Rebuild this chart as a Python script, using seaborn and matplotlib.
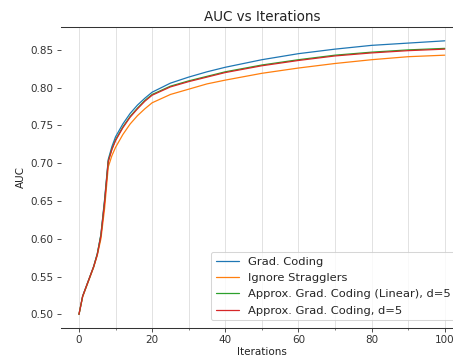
import numpy as np
import pandas as pd
import matplotlib
matplotlib.use("Agg")
import matplotlib.pyplot as plt
from matplotlib.ticker import MultipleLocator
import seaborn as sns

iterations = [0, 1, 2, 3, 4, 5, 6, 7, 8, 9, 10, 12, 14, 16, 18, 20, 25, 30, 35, 40, 50, 60, 70, 80, 90, 100]

grad_coding = [0.500, 0.524, 0.537, 0.550, 0.563, 0.580, 0.606, 0.652, 0.705, 0.722, 0.735, 0.752, 0.766, 0.777,
               0.786, 0.794, 0.806, 0.814, 0.821, 0.827, 0.837, 0.845, 0.851, 0.856, 0.859, 0.862]
ignore_stragglers = [0.500, 0.523, 0.536, 0.549, 0.562, 0.578, 0.600, 0.640, 0.695, 0.710, 0.721, 0.738, 0.752, 0.763,
                     0.772, 0.780, 0.791, 0.798, 0.805, 0.810, 0.819, 0.826, 0.832, 0.837, 0.841, 0.843]
approx_linear = [0.500, 0.524, 0.537, 0.550, 0.563, 0.580, 0.605, 0.650, 0.703, 0.719, 0.731, 0.748, 0.762, 0.773,
                 0.783, 0.791, 0.802, 0.809, 0.815, 0.821, 0.830, 0.837, 0.843, 0.847, 0.850, 0.852]
approx_d5 = [0.500, 0.524, 0.537, 0.550, 0.563, 0.579, 0.604, 0.648, 0.702, 0.718, 0.730, 0.747, 0.761, 0.772,
             0.782, 0.790, 0.801, 0.808, 0.814, 0.820, 0.829, 0.836, 0.842, 0.846, 0.849, 0.851]

labels = ["Grad. Coding", "Ignore Stragglers", "Approx. Grad. Coding (Linear), d=5", "Approx. Grad. Coding, d=5"]
series = [grad_coding, ignore_stragglers, approx_linear, approx_d5]

frames = []
for lab, vals in zip(labels, series):
    frames.append(pd.DataFrame({"Iterations": iterations, "AUC": vals, "Method": lab}))
df = pd.concat(frames, ignore_index=True)

sns.set_theme(style="ticks")
plt.rcParams["font.family"] = ["DejaVu Sans"]

fig = plt.figure(figsize=(453 / 75, 360 / 75), dpi=75)
ax = fig.add_axes([60.7 / 453, 32 / 360, 402.3 / 453, 301 / 360])

palette = ["#1f77b4", "#ff7f0e", "#2ca02c", "#d62728"]
sns.lineplot(data=df, x="Iterations", y="AUC", hue="Method", hue_order=labels,
             palette=palette, linewidth=1.2, ax=ax, estimator=None, sort=False)

ax.set_xlim(-5, 105)
ax.set_ylim(0.4819, 0.8803)
ax.xaxis.set_major_locator(MultipleLocator(20))
ax.xaxis.set_minor_locator(MultipleLocator(10))
ax.yaxis.set_major_locator(MultipleLocator(0.05))
ax.grid(axis="x", which="both", color="#dddddd", linewidth=0.8)
ax.grid(axis="y", visible=False)

for side in ["left", "right"]:
    ax.spines[side].set_visible(False)
for side in ["top", "bottom"]:
    ax.spines[side].set_visible(True)
    ax.spines[side].set_color("#333333")
    ax.spines[side].set_linewidth(1.0)

ax.tick_params(axis="both", which="major", labelsize=10, colors="#333333", length=3.5, width=0.8)
ax.tick_params(axis="x", which="minor", length=2, width=0.6, colors="#333333")
ax.set_title("AUC vs Iterations", fontsize=13, color="#222222")
ax.set_xlabel("Iterations", fontsize=10, color="#222222", labelpad=2)
ax.set_ylabel("AUC", fontsize=10, color="#222222")

leg = ax.legend(loc="lower right", fontsize=11, frameon=True, handlelength=2.0,
                handletextpad=0.8, labelspacing=0.55, borderaxespad=0.68)
leg.get_frame().set_edgecolor("#cccccc")
leg.get_frame().set_facecolor("white")

fig.savefig("out.png", dpi=75)
